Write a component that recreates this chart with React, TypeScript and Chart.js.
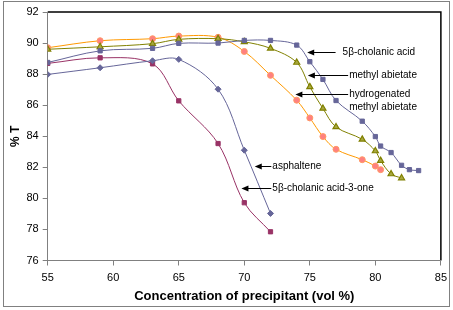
import React, { useEffect, useRef } from "react";
import { Chart, registerables } from "chart.js";

Chart.register(...registerables);

const cholanicX = [55, 59, 63, 65, 68, 70, 72, 74, 75, 76, 77, 79, 80, 80.4, 81.2, 82, 82.6, 83.3];
const cholanicY = [88.75, 89.5, 89.66, 89.98, 90.0, 90.17, 90.17, 89.87, 88.8, 87.66, 86.3, 84.97, 83.98, 83.37, 82.95, 82.13, 81.85, 81.79];

const methylX = [55, 59, 63, 65, 68, 70, 72, 74, 75, 76, 77, 79, 80, 80.4, 81.2, 82];
const methylY = [89.6, 89.76, 89.96, 90.24, 90.28, 90.08, 89.66, 88.75, 87.18, 85.79, 84.6, 83.8, 83.05, 82.43, 81.57, 81.31];

const hydroX = [55, 59, 63, 65, 68, 70, 72, 74, 75, 76, 77, 79, 80, 80.4];
const hydroY = [89.7, 90.15, 90.28, 90.45, 90.37, 89.46, 87.92, 86.32, 85.18, 83.98, 83.16, 82.49, 82.08, 81.85];

const asphX = [55, 59, 63, 65, 68, 70, 72];
const asphY = [87.98, 88.41, 88.86, 88.95, 87.03, 83.1, 79.03];

const oneX = [55, 59, 63, 65, 68, 70, 72];
const oneY = [88.69, 89.05, 88.66, 86.28, 83.53, 79.72, 77.85];

const xTicks = [55, 60, 65, 70, 75, 80, 85];
const yTicks = [76, 78, 80, 82, 84, 86, 88, 90, 92];

// annotation labels: text lines, arrow tip (data x,y), text start (data x)
const notes = [
  { lines: ["5β-cholanic acid"], tip: [74.8, 89.42], text: 77.5, gap: 6 },
  { lines: ["methyl abietate"], tip: [74.85, 87.97], text: 78.0, gap: 0 },
  { lines: ["hydrogenated", "methyl abietate"], tip: [73.9, 86.75], text: 78.0, gap: 0 },
  { lines: ["asphaltene"], tip: [70.8, 82.08], text: 72.14, gap: 0 },
  { lines: ["5β-cholanic acid-3-one"], tip: [69.78, 80.69], text: 72.14, gap: 0 },
];

const pts = (xs: number[], ys: number[]) => xs.map((x, i) => ({ x, y: ys[i] }));

const frame = {
  id: "frame",
  beforeDraw(chart: any) {
    const { ctx, chartArea: a } = chart;
    ctx.save();
    ctx.fillStyle = "#fff";
    ctx.fillRect(0, 0, chart.width, chart.height);
    ctx.strokeStyle = "#808080";
    ctx.lineWidth = 1;
    ctx.strokeRect(3.5, 1.5, 446, 305);
    ctx.strokeStyle = "#000";
    ctx.lineWidth = 1.5;
    ctx.beginPath();
    ctx.moveTo(a.left, a.top);
    ctx.lineTo(a.right, a.top);
    ctx.lineTo(a.right, a.bottom);
    ctx.stroke();
    ctx.restore();
  },
  afterDatasetsDraw(chart: any) {
    const { ctx, scales } = chart;
    const sx = scales.x, sy = scales.y;
    ctx.save();
    ctx.font = "10px 'Liberation Sans', Arial, sans-serif";
    ctx.fillStyle = "#000";
    ctx.strokeStyle = "#000";
    ctx.lineWidth = 1;
    ctx.textBaseline = "middle";
    for (const n of notes) {
      const tx = sx.getPixelForValue(n.tip[0]);
      const ty = Math.round(sy.getPixelForValue(n.tip[1])) + 0.5;
      const ex = sx.getPixelForValue(n.text);
      ctx.beginPath();
      ctx.moveTo(tx + 6, ty);
      ctx.lineTo(ex - 1 - n.gap, ty);
      ctx.stroke();
      ctx.beginPath();
      ctx.moveTo(tx, ty);
      ctx.lineTo(tx + 7, ty - 3);
      ctx.lineTo(tx + 7, ty + 3);
      ctx.closePath();
      ctx.fill();
      n.lines.forEach((l, i) => {
        ctx.fillText(l, ex, ty + i * 12.5);
      });
    }
    ctx.restore();
  },
};

export default function App() {
  const ref = useRef<HTMLCanvasElement>(null);
  useEffect(() => {
    const font = { family: "'Liberation Sans', Arial, sans-serif", size: 11 };
    const chart = new Chart(ref.current!, {
      type: "line",
      data: {
        datasets: [
          {
            label: "5β-cholanic acid",
            data: pts(cholanicX, cholanicY),
            borderColor: "#666699",
            backgroundColor: "#666699",
            borderWidth: 1,
            pointStyle: "rect",
            pointRadius: 3,
            tension: 0.35,
          },
          {
            label: "methyl abietate",
            data: pts(methylX, methylY),
            borderColor: "#808000",
            backgroundColor: "#a8a840",
            pointBorderColor: "#808000",
            pointBorderWidth: 1.2,
            borderWidth: 1,
            pointStyle: "triangle",
            pointRadius: 3.5,
            tension: 0.35,
          },
          {
            label: "hydrogenated methyl abietate",
            data: pts(hydroX, hydroY),
            borderColor: "#FF9900",
            backgroundColor: "#FF8080",
            pointBorderColor: "#FF9966",
            borderWidth: 1,
            pointStyle: "circle",
            pointRadius: 3,
            tension: 0.35,
          },
          {
            label: "asphaltene",
            data: pts(asphX, asphY),
            borderColor: "#666699",
            backgroundColor: "#666699",
            borderWidth: 1,
            pointStyle: "rectRot",
            pointRadius: 3,
            tension: 0.35,
          },
          {
            label: "5β-cholanic acid-3-one",
            data: pts(oneX, oneY),
            borderColor: "#993366",
            backgroundColor: "#993366",
            borderWidth: 1,
            pointStyle: "rect",
            pointRadius: 3,
            tension: 0.35,
          },
        ],
      },
      options: {
        animation: false,
        responsive: false,
        maintainAspectRatio: false,
        layout: { padding: { left: 8, top: 12, right: 11.5, bottom: 0 } },
        plugins: { legend: { display: false }, tooltip: { enabled: false } },
        scales: {
          x: {
            type: "linear",
            min: 55,
            max: 85,
            afterBuildTicks: (s: any) => { s.ticks = xTicks.map((v) => ({ value: v })); },
            afterFit: (s: any) => { s.height = 49.5; },
            grid: { drawOnChartArea: false, drawTicks: true, tickLength: 5, color: "#808080" },
            border: { color: "#808080", width: 1 },
            ticks: { color: "#000", font, padding: 6, maxRotation: 0 },
            title: { display: true, text: "Concentration of precipitant (vol %)", color: "#000", font: { family: font.family, size: 13, weight: "bold" }, padding: { top: 2, bottom: 6 } },
          },
          y: {
            type: "linear",
            min: 76,
            max: 92,
            afterBuildTicks: (s: any) => { s.ticks = yTicks.map((v) => ({ value: v })); },
            afterFit: (s: any) => { s.width = 39.7; },
            grid: { drawOnChartArea: false, drawTicks: true, tickLength: 5, color: "#808080" },
            border: { color: "#808080", width: 1 },
            ticks: { color: "#000", font, padding: 4 },
            title: { display: true, text: "% T", color: "#000", font: { family: font.family, size: 12, weight: "bold" }, padding: { top: 0, bottom: 2 } },
          },
        },
      },
      plugins: [frame],
    } as any);
    return () => chart.destroy();
  }, []);
  return (
    <div style={{ position: "fixed", left: 0, top: 0, width: 453, height: 310 }}>
      <canvas ref={ref} width={453} height={310} style={{ width: 453, height: 310 }} />
    </div>
  );
}
